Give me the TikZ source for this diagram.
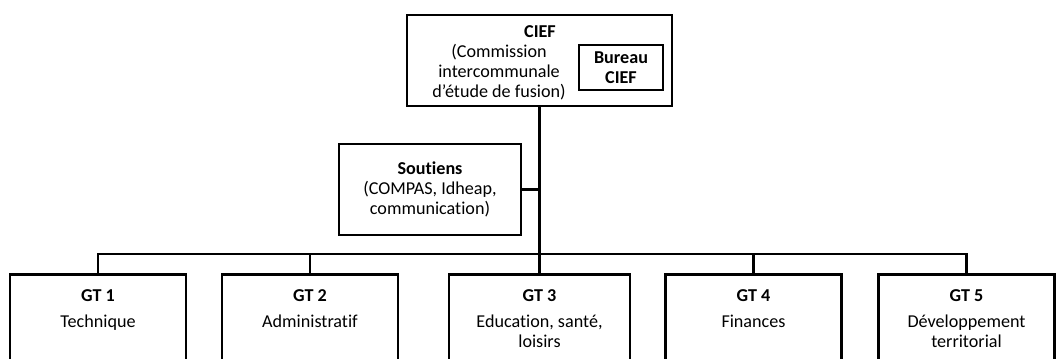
\documentclass[tikz,border=0pt]{standalone}
\usepackage{fontspec}
\setmainfont{Carlito}[Ligatures=NoCommon]
\usetikzlibrary{positioning}
\colorlet{linecolor}{black}

\tikzset{
  orgbox/.style={draw=linecolor, line width=2.2pt, rectangle, fill=white},
  gtbox/.style={orgbox, anchor=north, minimum width=132pt, minimum height=90pt},
  gttext/.style={align=center, anchor=north, inner sep=0pt},
  link/.style={draw=linecolor, line width=1.6pt},
}

\begin{document}
\begin{tikzpicture}[x=0.75pt, y=-0.75pt, font=\fontsize{13.6}{15}\selectfont]
        \useasboundingbox (0, 0) rectangle (1056, 359); % 1056 x 359 px
        \clip (0, 0) rectangle (1056, 359);
        % Boxes {{{
        \node[orgbox, minimum width=198.75pt, minimum height=68.25pt] (cief) at (539.5, 60.5) {};
        \node[font=\fontsize{13.6}{15}\selectfont\bfseries] (ciefname) at (540, 32) {CIEF};
        \node[align=center, inner sep=0pt] (cieftext) at (499, 72) {(Commission\\intercommunale\\d'étude de fusion)};
        \node[orgbox, line width=1.5pt, align=center, minimum width=63pt, minimum height=33.75pt,
              font=\fontsize{13.6}{15}\selectfont\bfseries] (bureau) at (621, 67.5) {Bureau\\CIEF};
        \node[orgbox, align=center, minimum width=136.5pt, minimum height=68.25pt] (soutiens) at (430, 189.5)
              {\textbf{Soutiens}\\(COMPAS, Idheap,\\communication)};
        \node[gtbox] (gt1) at (98, 273) {};
        \node[gtbox] (gt2) at (310, 273) {};
        \node[gtbox, minimum width=135.75pt] (gt3) at (539.5, 273) {};
        \node[gtbox] (gt4) at (753.5, 273) {};
        \node[gtbox] (gt5) at (966.5, 273) {};
        % }}}
        % Texts of the groups {{{
        \node[gttext, below=12pt of gt1.north] (gt1t) {\textbf{GT 1}\\[5pt]Technique};
        \node[gttext, below=12pt of gt2.north] (gt2t) {\textbf{GT 2}\\[5pt]Administrat\kern0pt if};
        \node[gttext, below=12pt of gt3.north] (gt3t) {\textbf{GT 3}\\[5pt]Education, santé,\\loisirs};
        \node[gttext, below=12pt of gt4.north] (gt4t) {\textbf{GT 4}\\[5pt]Finances};
        \node[gttext, below=12pt of gt5.north] (gt5t) {\textbf{GT 5}\\[5pt]Développement\\territorial};
        % }}}
        % Links {{{
        \coordinate (bus) at (539.5, 254);
        \draw[link, line width=2.2pt] (cief.south) -- (gt3.north);
        \draw[link] (gt1.north) |- (bus) -| (gt5.north);
        \draw[link] (gt2.north) -- (gt2.north |- bus);
        \draw[link] (gt4.north) -- (gt4.north |- bus);
        \draw[link] (soutiens.east) -- (soutiens.east -| cief.south);
        % }}}
\end{tikzpicture}
\end{document}
